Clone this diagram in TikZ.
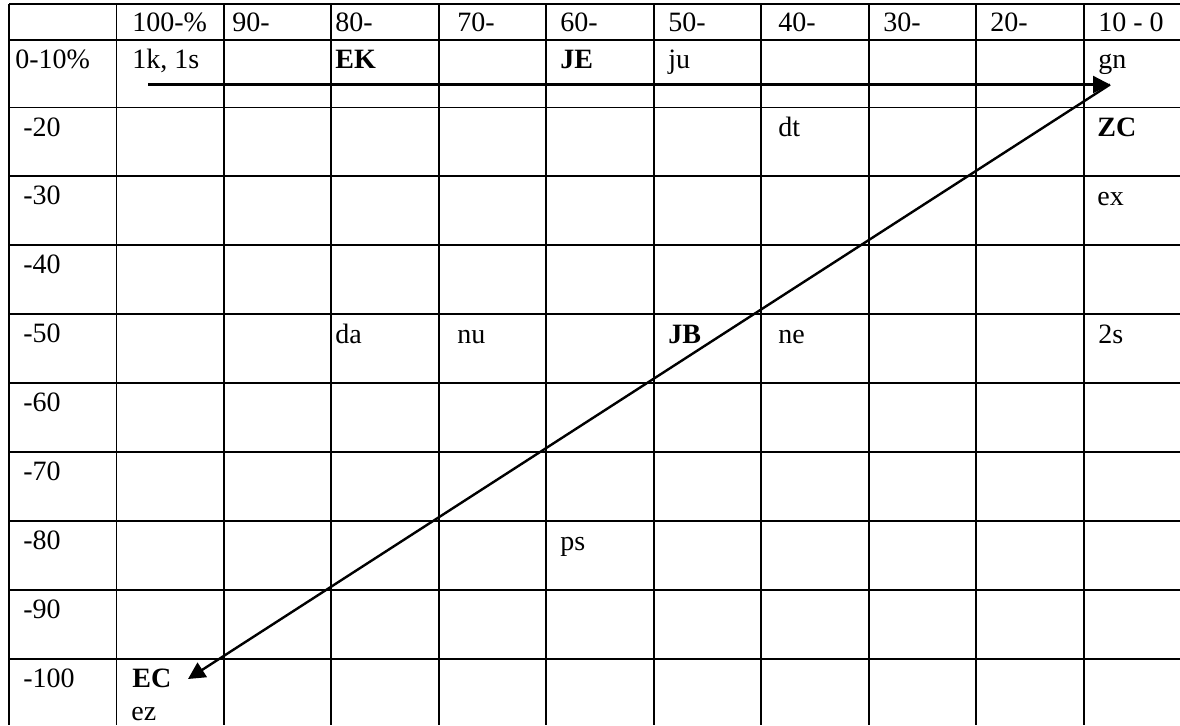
\documentclass[tikz,border=0pt]{standalone}
\usepackage{fontspec}
\setmainfont{Liberation Serif}
\usetikzlibrary{arrows.meta}

\begin{document}
\begin{tikzpicture}[x=0.5pt,y=-0.5pt,
  rule/.style={draw=black,line width=0.95pt},
  cell/.style={anchor=base west,inner sep=0pt,font=\fontsize{14}{17}\selectfont},
  key/.style={cell,font=\fontsize{14}{17}\selectfont\bfseries},
  flow/.style={-{Triangle[length=8.5pt,width=8.5pt]},draw=black,line width=1.2pt}]
  \useasboundingbox (0,0) rectangle (1180,725);
  % grid, cut off at right and bottom
  \foreach \i in {0,...,10} {\draw[rule] ({9+107.48*\i},4) -- ({9+107.48*\i},725);}
  \foreach \y in {4,40} {\draw[rule] (9,\y) -- (1180,\y);}
  \foreach \j in {0,...,8} {\draw[rule] (9,{107.5+68.9*\j}) -- (1180,{107.5+68.9*\j});}
  % header row
  \foreach \x/\t [count=\k] in {132/100-\%,232/90-,335/80-,457/70-,560/60-,668/50-,
      778/40-,883/30-,990/20-,1098/10 - 0}
    {\node[cell] (h\k) at (\x,31) {\t};}
  % row labels
  \node[cell] (r0) at (15,68) {0-10\%};
  \foreach \t [count=\k from 0] in {-20,-30,-40,-50,-60,-70,-80,-90,-100}
    {\node[cell] (r\k) at (23,{136+68.9*\k}) {\t};}
  % entries
  \node[cell] (lks) at (132,68)  {1k, 1s};
  \node[key]  (ek)  at (335,68)  {EK};
  \node[key]  (je)  at (560,68)  {JE};
  \node[cell] (ju)  at (668,68)  {ju};
  \node[cell] (gn)  at (1098,68) {gn};
  \node[cell] (dt)  at (778,136) {dt};
  \node[key]  (zc)  at (1097,136) {ZC};
  \node[cell] (ex)  at (1097,205) {ex};
  \node[cell] (da)  at (335,343) {da};
  \node[cell] (nu)  at (457,343) {nu};
  \node[key]  (jb)  at (668,343) {JB};
  \node[cell] (ne)  at (778,343) {ne};
  \node[cell] (ts)  at (1098,343) {2s};
  \node[cell] (ps)  at (560,550) {ps};
  \node[key]  (ec)  at (132,687) {EC};
  \node[cell] (ez)  at (131,720) {ez};
  % arrows
  \coordinate (hstart) at (148,84.5);
  \coordinate (tip) at (1110,84.5);
  \coordinate (ecend) at (188,679);
  \draw[flow] (hstart) -- (tip);
  \draw[flow] (tip) -- (ecend);
\end{tikzpicture}
\end{document}
